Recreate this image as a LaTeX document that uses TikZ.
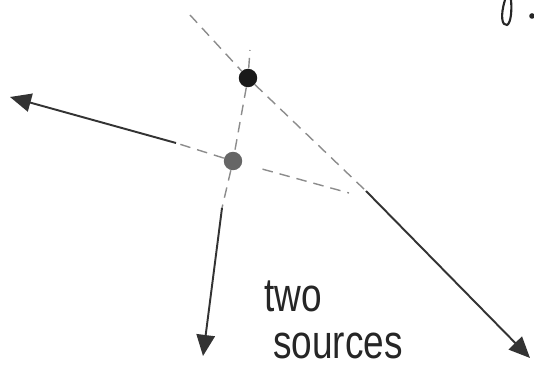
\documentclass[tikz,border=0pt]{standalone}
\usepackage{fontspec}
\newfontfamily\handfont[FakeStretch=0.78]{Liberation Sans}
\usetikzlibrary{arrows.meta}
\tikzset{
  source/.style={circle, inner sep=0pt, minimum size=10.5pt},
  ray/.style={-{Triangle[length=12pt, width=10.5pt]}, line width=1.1pt, black!80},
  trace/.style={dash pattern=on 6pt off 4pt, line width=0.8pt, black!45},
  scribble/.style={line width=1.2pt, black!85, line cap=round},
}

\begin{document}
\begin{tikzpicture}[x=0.02cm, y=-0.02cm]
  \useasboundingbox (0,0) rectangle (534,377);

  % --- Sources ---
  \node[source, fill=black!90] (srca) at (248,78) {};
  \node[source, fill=black!60] (srcb) at (233,161) {};

  % --- Ends of the traces and rays ---
  \coordinate (topend)    at (190,15);
  \coordinate (upend)     at (250,50);
  \coordinate (turn)      at (366,191);
  \coordinate (rightend)  at (530,358);
  \coordinate (leftturn)  at (176,143);
  \coordinate (leftend)   at (10,97);
  \coordinate (downturn)  at (222,208);
  \coordinate (downend)   at (203,356);
  \coordinate (tail)      at (349,193);

  % --- Dashed traces ---
  \draw[trace] (topend) -- (srca);
  \draw[trace] (srca) -- (turn);
  \draw[trace] (srca) -- (upend);
  \draw[trace] (srca) -- (srcb);
  \draw[trace] (srcb) -- (leftturn);
  \draw[trace] (srcb) -- (downturn);
  \draw[trace, shorten <=12pt] (srcb) -- (tail);

  % --- Rays ---
  \draw[ray] (turn) -- (rightend);
  \draw[ray] (leftturn) -- (leftend);
  \draw[ray] (downturn) -- (downend);

  % --- Label ---
  \node[anchor=north west, align=left, font=\handfont\fontsize{27}{27}\selectfont,
        text=black!85, inner sep=0pt] (label) at (264,280) {two\\\hspace{5pt}sources};

  % --- Cropped writing, top right ---
  \draw[scribble] (505,0) .. controls (500,16) and (502,26) .. (507,25)
                          .. controls (511,23) and (512,10) .. (511,0);
  \fill[black!85] (532,16) circle (1.6pt);

\end{tikzpicture}
\end{document}
